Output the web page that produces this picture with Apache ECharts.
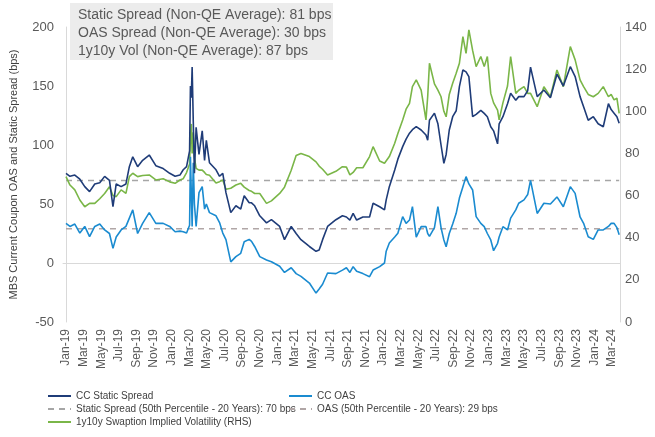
<!DOCTYPE html>
<html>
<head>
<meta charset="utf-8">
<style>html,body{margin:0;padding:0;background:#fff}#c{width:655px;height:437px}</style>
<script src="https://cdn.jsdelivr.net/npm/echarts@6/dist/echarts.min.js"></script>
</head>
<body>
<div id="c"></div>
<script>
const tickLabels = ['Jan-19','Mar-19','May-19','Jul-19','Sep-19','Nov-19','Jan-20','Mar-20','May-20','Jul-20','Sep-20','Nov-20','Jan-21','Mar-21','May-21','Jul-21','Sep-21','Nov-21','Jan-22','Mar-22','May-22','Jul-22','Sep-22','Nov-22','Jan-23','Mar-23','May-23','Jul-23','Sep-23','Nov-23','Jan-24','Mar-24'];

const dates = ['2019-01-01','2019-01-15','2019-02-01','2019-02-17','2019-03-05','2019-03-22','2019-04-09','2019-04-26','2019-05-13','2019-05-30','2019-06-11','2019-06-22','2019-07-09','2019-07-26','2019-08-07','2019-08-19','2019-09-05','2019-09-22','2019-10-15','2019-11-07','2019-12-02','2019-12-25','2020-01-13','2020-01-30','2020-02-10','2020-02-21','2020-03-02','2020-03-05','2020-03-08','2020-03-11','2020-03-15','2020-03-19','2020-03-25','2020-04-04','2020-04-15','2020-04-23','2020-04-29','2020-05-10','2020-06-02','2020-06-14','2020-06-25','2020-07-06','2020-07-23','2020-08-10','2020-08-27','2020-09-08','2020-09-25','2020-10-03','2020-10-14','2020-11-01','2020-11-24','2020-12-11','2021-01-09','2021-01-26','2021-02-17','2021-03-05','2021-03-22','2021-04-20','2021-05-13','2021-05-24','2021-06-05','2021-06-22','2021-07-21','2021-08-13','2021-08-27','2021-09-08','2021-09-19','2021-10-01','2021-10-23','2021-11-15','2021-11-27','2021-12-20','2022-01-06','2022-01-12','2022-01-23','2022-02-10','2022-02-20','2022-03-08','2022-03-20','2022-04-01','2022-04-11','2022-04-24','2022-05-11','2022-05-28','2022-06-03','2022-06-09','2022-06-26','2022-07-08','2022-07-19','2022-07-29','2022-08-06','2022-08-17','2022-08-29','2022-09-10','2022-09-21','2022-10-03','2022-10-14','2022-10-24','2022-11-06','2022-11-18','2022-12-04','2022-12-16','2022-12-27','2023-01-08','2023-01-18','2023-02-01','2023-02-06','2023-02-18','2023-03-05','2023-03-16','2023-04-03','2023-04-13','2023-05-01','2023-05-14','2023-05-24','2023-06-16','2023-07-09','2023-08-01','2023-08-24','2023-09-15','2023-10-09','2023-10-26','2023-11-12','2023-11-24','2023-12-10','2023-12-28','2024-01-14','2024-02-01','2024-02-18','2024-02-27','2024-03-08','2024-03-18','2024-03-26'];

const staticSpread = [76,73.5,74.5,71,64.7,60.5,67,68,73.4,70,47.7,67,64.7,67,81.6,90,81.6,87,91.5,82.5,80,76,73.5,74.5,79,81.6,95,150,140,166,120,76,115,92,112,87,104,85,79,73.5,76,59.6,42.7,48.5,45.7,57,51,51,48.5,40,34,36.7,31,19.8,31,25,19.8,14,9.9,11,19.8,31,36.7,40,39,36.4,42,36.4,39,39,50.6,47.7,45,53.5,64.7,78.8,88,98.6,105,110,113,115.5,112.7,108.5,104,121,127,118,100,84.5,92,112.7,124,129,149.4,163.6,162,158,124,126,129.4,126.8,124,115.5,112,101,118,124,135,143.8,138,141,141,146,166,141,146.6,140,160,150,166.4,158,141,132.5,121,124,118,115.5,135,130,127,124,118.4];

const oasSpread = [33.6,31,33,25.4,31,22.3,31,33,28,25,12.4,22,28,31,38,45,25,33.6,42.7,33.6,33.6,31,26.5,27,26.5,25.4,32,90,60,31,85,50,31,59.6,64.7,45.7,50,42.7,40,34.3,25.4,19.8,1,5.4,8.2,18,20,18.4,14,5.4,2.5,1,-2.8,-8,-4,-9,-11.3,-17,-25.5,-22,-18,-8.5,-9,-6,-4,-8,-3.1,-7,-9,-11.6,-6,-3.1,0,10,17,22,25.2,39.3,33.6,36.4,47.7,22,30.8,30.8,25,22.6,30,47.7,30,19.5,13.8,25,33,42.1,55,64.7,73.2,67,61.9,39.3,33.6,30.8,25,19.5,10.4,16.7,22,30.8,28,38,45,50.6,53.5,58,70,42,50.6,50,56,47.7,64.7,59,39,33.6,22.3,20,28,28,31,33.6,33.6,30,24];

const swaptionVol = [69,65,62.7,57.9,54.7,56.3,56.3,58.5,61,64.2,60,59.5,62.7,61,69,70.6,69,69.5,69.8,67.4,68,66.5,65.8,67.4,68,70.9,75,88,94,80,90,78,72.9,72.1,72.1,71,70,69.6,66,66.6,67.4,63,63.5,65,65.8,64,62.4,62,61,61,56.3,57.5,61,64,72,79,80,78.5,76,74,72.5,69.8,71.5,73.7,73.5,69.8,71,73.2,73.2,78.5,83.2,76.4,75.3,75.5,78.5,84.8,89.5,95.9,101,103.8,111.7,114.9,110,95.9,107,122.8,113,110,106.9,100,97.4,108,113.3,118,122.8,135.4,127.5,138.6,128.9,121.2,126,121.2,126,108.5,104,100.6,95.9,104,112,126,108.5,110,111.7,108.5,108.5,102.2,111.7,106.9,119.6,111.7,130.7,124.4,114.9,111.7,108,106.9,108.5,111.7,106.9,108,105.4,106.2,99];

const staticMedian = 70;
const oasMedian = 29;
const infoLines = ['Static Spread (Non-QE Average): 81 bps','OAS Spread (Non-QE Average): 30 bps','1y10y Vol (Non-QE Average): 87 bps'];

function toMonth(d) {
  const p = d.split('-').map(Number);
  const dim = new Date(p[0], p[1], 0).getDate();
  return (p[0] - 2019) * 12 + (p[1] - 1) + (p[2] - 1) / dim;
}
const xs = dates.map(toMonth);
const pair = arr => arr.map((v, i) => [xs[i], v]);
const xStart = xs[0], xEnd = xs[xs.length - 1];
const labelValues = tickLabels.map((_, i) => i * 2);

const sans = '"Liberation Sans", Arial, sans-serif';
const legendText = { fontSize: 10, color: '#404040', fontFamily: sans };
const chart = echarts.init(document.getElementById('c'));
chart.setOption({
  animation: false,
  backgroundColor: '#fff',
  grid: { left: 59, right: 35, top: 27, bottom: 115 },
  xAxis: {
    type: 'value', min: -0.34, max: 62.9,
    axisLine: { show: true, lineStyle: { color: '#d9d9d9' } },
    axisTick: { show: false },
    splitLine: { show: false },
    axisLabel: {
      customValues: labelValues,
      rotate: 90, margin: 7, fontSize: 12, color: '#595959', fontFamily: sans,
      formatter: v => tickLabels[Math.round(v / 2)] || ''
    }
  },
  yAxis: [{
    type: 'value', min: -50, max: 200, interval: 50,
    name: 'MBS Current Coupon OAS and Static Spread (bps)',
    nameLocation: 'middle', nameGap: 44,
    nameTextStyle: { fontSize: 11, color: '#404040', fontFamily: sans },
    axisLine: { show: true, lineStyle: { color: '#d9d9d9' } },
    axisTick: { show: false },
    splitLine: { show: false },
    axisLabel: { fontSize: 13, color: '#595959', margin: 9, fontFamily: sans }
  }, {
    type: 'value', min: 0, max: 140, interval: 20, position: 'right',
    axisLine: { show: true, lineStyle: { color: '#d9d9d9' } },
    axisTick: { show: false },
    splitLine: { show: false },
    axisLabel: { fontSize: 13, color: '#595959', margin: 5, fontFamily: sans }
  }],
  legend: [{
    left: 42, top: 386, orient: 'vertical', itemGap: 3, itemWidth: 23, itemHeight: 12,
    itemStyle: { opacity: 0 },
    textStyle: legendText,
    data: ['CC Static Spread', 'Static Spread (50th Percentile - 20 Years): 70 bps', '1y10y Swaption Implied Volatility (RHS)']
  }, {
    left: 283, top: 386, orient: 'vertical', itemGap: 3, itemWidth: 23, itemHeight: 12,
    itemStyle: { opacity: 0 },
    textStyle: legendText,
    data: ['CC OAS', 'OAS (50th Percentile - 20 Years): 29 bps']
  }],
  graphic: [{
    type: 'rect', left: 70, top: 3, shape: { width: 263, height: 57 },
    style: { fill: '#ececec' }, silent: true
  }, {
    type: 'text', left: 78, top: 6,
    style: { text: infoLines.join('\n'), fontSize: 14, lineHeight: 18, fill: '#595959', fontFamily: sans }
  }],
  series: [{
    name: 'Static Spread (50th Percentile - 20 Years): 70 bps', type: 'line', yAxisIndex: 0,
    data: [[xStart, staticMedian], [xEnd, staticMedian]], symbol: 'none', z: 1,
    lineStyle: { color: '#a6a6a6', width: 1.5, type: [6, 5] }, itemStyle: { color: '#a6a6a6' }
  }, {
    name: 'OAS (50th Percentile - 20 Years): 29 bps', type: 'line', yAxisIndex: 0,
    data: [[xStart, oasMedian], [xEnd, oasMedian]], symbol: 'none', z: 1,
    lineStyle: { color: '#b0a6a6', width: 1.5, type: [6, 5] }, itemStyle: { color: '#b0a6a6' }
  }, {
    name: '1y10y Swaption Implied Volatility (RHS)', type: 'line', yAxisIndex: 1,
    data: pair(swaptionVol), symbol: 'none', z: 2,
    lineStyle: { color: '#7ab648', width: 1.6 }, itemStyle: { color: '#7ab648' }
  }, {
    name: 'CC OAS', type: 'line', yAxisIndex: 0,
    data: pair(oasSpread), symbol: 'none', z: 3,
    lineStyle: { color: '#1a8bd0', width: 1.6 }, itemStyle: { color: '#1a8bd0' }
  }, {
    name: 'CC Static Spread', type: 'line', yAxisIndex: 0,
    data: pair(staticSpread), symbol: 'none', z: 4,
    lineStyle: { color: '#1f3c78', width: 1.6 }, itemStyle: { color: '#1f3c78' }
  }]
});
</script>
</body>
</html>
